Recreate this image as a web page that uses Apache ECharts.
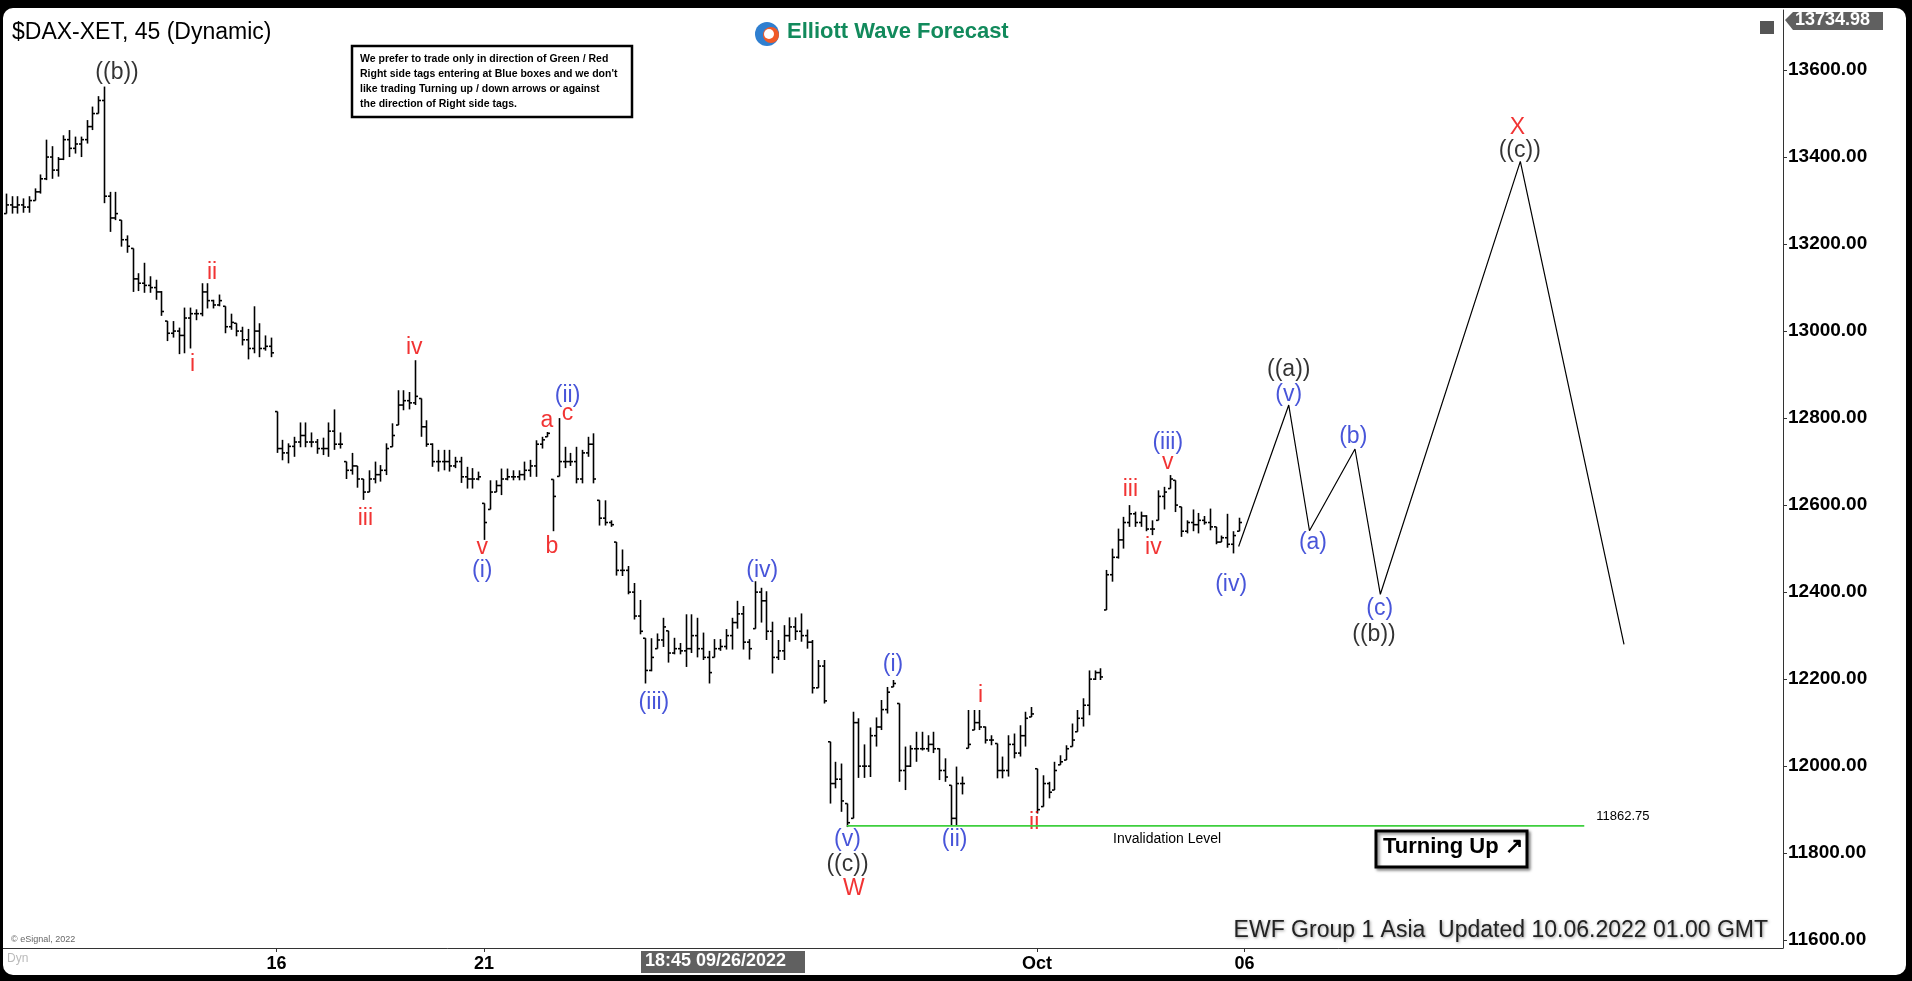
<!DOCTYPE html>
<html><head><meta charset="utf-8">
<script src="https://cdn.jsdelivr.net/npm/echarts@6/dist/echarts.min.js"></script>
<style>html,body{margin:0;padding:0;background:#000;}#c{position:absolute;left:3px;top:8px;width:1903px;height:967px;background:#fff;border-radius:10px;}</style>
</head><body><div id="c"></div>
<script>
const highs=[
13278,13316,13310,13310,13305,13310,13328,13360,13440,13425,13400,13450,
13462,13447,13447,13485,13516,13540,13562,13320,13320,13255,13220,13190,
13133,13157,13126,13118,13092,13023,13023,13008,13054,13054,13050,13110,
13110,13072,13084,13057,13040,13018,13010,13005,13057,13018,12990,12985,
12815,12750,12742,12757,12790,12790,12767,12752,12755,12790,12820,12767,
12700,12720,12690,12660,12680,12700,12692,12742,12788,12864,12864,12860,
12933,12845,12795,12742,12727,12727,12727,12711,12711,12688,12685,12677,
12604,12657,12657,12684,12684,12680,12680,12700,12704,12749,12757,12768,
12659,12800,12734,12720,12734,12727,12757,12765,12611,12611,12565,12515,
12498,12460,12421,12382,12294,12294,12305,12341,12311,12295,12283,12349,
12349,12341,12307,12265,12292,12292,12315,12341,12380,12368,12292,12425,
12410,12402,12332,12290,12324,12342,12342,12351,12314,12290,12244,12244,
12056,12010,12006,11914,12125,12110,12050,12089,12112,12152,12182,12198,
12144,12045,12048,12079,12079,12071,12079,12041,12018,11956,11999,11976,
12129,12129,12129,12091,12071,12052,12022,12071,12075,12094,12125,12136,
11994,11979,11964,12010,12025,12048,12098,12129,12156,12220,12220,12225,
12451,12500,12546,12573,12600,12585,12585,12577,12565,12634,12642,12669,
12657,12596,12565,12590,12582,12575,12592,12550,12530,12580,12540,12571];
const lows=[
13244,13270,13270,13270,13272,13272,13300,13316,13347,13350,13355,13393,
13400,13408,13400,13431,13462,13500,13294,13228,13255,13194,13180,13090,
13092,13088,13088,13072,13035,12977,12985,12947,12949,12960,13025,13034,
13052,13052,13057,12995,13003,12988,12967,12935,12949,12940,12955,12940,
12720,12703,12696,12711,12733,12733,12733,12718,12715,12711,12727,12730,
12660,12670,12640,12612,12630,12650,12654,12669,12734,12784,12818,12820,
12830,12757,12734,12688,12677,12680,12677,12685,12651,12638,12638,12657,
12520,12590,12630,12623,12657,12657,12657,12657,12665,12665,12730,12757,
12540,12666,12685,12690,12650,12650,12711,12650,12553,12553,12550,12438,
12437,12395,12337,12303,12190,12218,12270,12274,12238,12257,12257,12228,
12260,12250,12244,12190,12250,12265,12268,12268,12316,12268,12245,12316,
12330,12290,12213,12244,12244,12286,12290,12286,12270,12167,12180,12144,
11914,11949,11895,11860,11880,11973,11973,11975,12045,12083,12121,12182,
11964,11945,11998,12010,12036,12033,12030,11968,11964,11863,11863,11935,
12041,12083,12083,12052,12048,11972,11972,11976,12018,12022,12045,12113,
11891,11907,11926,11945,12003,12014,12045,12079,12091,12117,12198,12198,
12359,12424,12477,12500,12550,12550,12550,12540,12531,12565,12590,12638,
12584,12527,12535,12540,12535,12555,12542,12510,12515,12502,12489,12540];
const closes=[
13270,13290,13285,13290,13285,13300,13320,13350,13400,13370,13395,13440,
13420,13430,13440,13470,13500,13530,13310,13260,13270,13210,13195,13120,
13110,13105,13100,13090,13045,12995,13000,12990,13030,13040,13040,13090,
13070,13060,13070,13010,13020,13000,12980,12960,13000,12960,12965,12950,
12730,12720,12735,12745,12760,12745,12745,12730,12730,12770,12740,12740,
12680,12690,12660,12630,12660,12670,12680,12730,12760,12830,12840,12835,
12850,12780,12740,12700,12700,12700,12690,12700,12665,12660,12660,12665,
12560,12630,12645,12660,12665,12665,12670,12680,12690,12740,12750,12765,
12620,12700,12700,12700,12660,12720,12740,12660,12570,12560,12555,12450,
12450,12400,12345,12310,12220,12250,12290,12320,12260,12270,12265,12270,
12300,12270,12250,12215,12270,12275,12300,12330,12350,12285,12270,12400,
12380,12310,12250,12265,12300,12320,12310,12300,12285,12180,12230,12150,
11960,11970,11920,11870,12100,12000,12000,12070,12090,12130,12170,12190,
11990,12000,12040,12040,12040,12050,12040,11990,11975,11880,11960,11960,
12050,12100,12090,12060,12060,11990,11990,12050,12030,12070,12110,12120,
11900,11960,11940,11990,12010,12040,12060,12110,12140,12200,12215,12205,
12440,12480,12520,12560,12580,12560,12575,12545,12545,12620,12630,12660,
12600,12540,12560,12555,12565,12560,12550,12515,12525,12510,12530,12560];
const dayStarts=[48,84,180,216];
const dayLabels=['16','21','Oct','06'];
const priceTicks=[11600,11800,12000,12200,12400,12600,12800,13000,13200,13400,13600];
const forecastIdx=[215,223.7,227.3,235.2,239.6,263.9,281.9];
const forecastPrice=[12505,12830,12541,12729,12395,13390,12280];
const invalidation=11862.75;
const invalidFrom=147, invalidTo=275;
const waveLabels=[
[20.3,13594,'((b))','#000'],[33.4,12922,'i','#e00'],[36.8,13135,'ii','#e00'],
[71.9,12961,'iv','#e00'],[63.4,12569,'iii','#e00'],[83.7,12502,'v','#e00'],
[83.7,12450,'(i)','#1a2ad0'],[94.9,12793,'a','#e00'],[98.5,12810,'c','#e00'],
[98.5,12852,'(ii)','#1a2ad0'],[95.8,12505,'b','#e00'],[113.5,12146,'(iii)','#1a2ad0'],
[132.3,12449,'(iv)','#1a2ad0'],[155,12233,'(i)','#1a2ad0'],[170.2,12163,'i','#e00'],
[179.5,11869,'ii','#e00'],[147.1,11832,'(v)','#1a2ad0'],[165.7,11832,'(ii)','#1a2ad0'],
[147.1,11774,'((c))','#000'],[148.2,11718,'W','#e00'],[196.2,12636,'iii','#e00'],
[200.2,12502,'iv','#e00'],[202.7,12698,'v','#e00'],[202.7,12743,'(iii)','#1a2ad0'],
[213.7,12418,'(iv)','#1a2ad0'],[223.7,12911,'((a))','#000'],[223.7,12855,'(v)','#1a2ad0'],
[227.9,12513,'(a)','#1a2ad0'],[234.9,12757,'(b)','#1a2ad0'],[239.5,12362,'(c)','#1a2ad0'],
[238.5,12303,'((b))','#000'],[263.4,13468,'X','#e00'],[263.8,13415,'((c))','#000']];

const ohlc=highs.map((h,i)=>{let o=i>0?closes[i-1]:closes[0];o=Math.min(h,Math.max(lows[i],o));return [i,o,h,lows[i],closes[i]];});
const F='"Liberation Sans", Arial, sans-serif';
const chart=echarts.init(document.getElementById('c'));
chart.setOption({
animation:false,
grid:{left:0,right:123,top:2,bottom:27},
xAxis:{type:'value',min:0.5,max:309.5,
 axisLine:{show:true,lineStyle:{color:'#333'}},splitLine:{show:false},
 axisTick:{show:true,customValues:dayStarts,length:4,lineStyle:{color:'#333'}},
 axisLabel:{customValues:dayStarts,formatter:v=>dayLabels[dayStarts.indexOf(Math.round(v))]||'',color:'#000',fontWeight:'bold',fontSize:18,fontFamily:F,margin:7}},
yAxis:{type:'value',position:'right',min:11582,max:13738,scale:true,
 axisLine:{show:true,lineStyle:{color:'#333'}},splitLine:{show:false},
 axisTick:{show:true,customValues:priceTicks,length:4,inside:false,lineStyle:{color:'#333'}},
 axisLabel:{customValues:priceTicks,formatter:v=>v.toFixed(2),color:'#000',fontWeight:'bold',fontSize:19,fontFamily:F,margin:5}},
series:[
{type:'custom',data:ohlc,encode:{x:0,y:[1,2,3,4]},renderItem:(p,api)=>{
 const x=api.value(0);const po=api.coord([x,api.value(1)]),ph=api.coord([x,api.value(2)]),pl=api.coord([x,api.value(3)]),pc=api.coord([x,api.value(4)]);
 const X=Math.round(ph[0])+0.5;const st={stroke:'#000',lineWidth:1.6};
 return {type:'group',children:[
  {type:'line',shape:{x1:X,y1:ph[1],x2:X,y2:pl[1]},style:st},
  {type:'line',shape:{x1:X-2.5,y1:po[1],x2:X,y2:po[1]},style:st},
  {type:'line',shape:{x1:X,y1:pc[1],x2:X+2.5,y2:pc[1]},style:st}]};}},
{type:'line',data:forecastIdx.map((x,i)=>[x,forecastPrice[i]]),symbol:'none',lineStyle:{color:'#000',width:1.2}},
{type:'line',data:[[invalidFrom,invalidation],[invalidTo,invalidation]],symbol:'none',lineStyle:{color:'#3ecf3e',width:1.6},
 endLabel:{show:true,formatter:'11862.75',fontSize:13,fontFamily:F,color:'#000',offset:[4,-9]}},
{type:'scatter',symbolSize:0,data:waveLabels.map(l=>({value:[l[0],l[1]],label:{formatter:l[2],color:l[3]}})),
 label:{show:true,position:'inside',fontSize:23,fontFamily:F}}
],
graphic:[
 {type:'text',left:9,top:13,style:{text:'$DAX-XET, 45 (Dynamic)',font:'23px '+F,fill:'#000'}},
 {type:'circle',shape:{cx:764,cy:26,r:12},style:{fill:'#2f7fd0'}},
 {type:'circle',shape:{cx:768,cy:27,r:8},style:{fill:'#f05a28'}},
 {type:'circle',shape:{cx:766,cy:26,r:5},style:{fill:'#fff'}},
 {type:'text',left:784,top:13,style:{text:'Elliott Wave Forecast',font:'bold 22px '+F,fill:'#128a5c'}},
 {type:'rect',shape:{x:349,y:38,width:280,height:71},style:{fill:'#fff',stroke:'#000',lineWidth:2.5}},
 {type:'text',left:357,top:44,style:{text:'We prefer to trade only in direction of Green / Red\nRight side tags entering at Blue boxes and we don\'t\nlike trading Turning up / down arrows or against\nthe direction of Right side tags.',font:'bold 10.5px '+F,fill:'#000',lineHeight:15}},
 {type:'text',left:1110,top:824,style:{text:'Invalidation Level',font:'14px '+F,fill:'#000'}},
 {type:'rect',shape:{x:1373,y:823,width:151,height:36},style:{fill:'#fff',stroke:'#000',lineWidth:3,shadowBlur:3,shadowColor:'#888',shadowOffsetX:2,shadowOffsetY:2}},
 {type:'text',left:1380,top:828,style:{text:'Turning Up \u2197',font:'bold 22px '+F,fill:'#000'}},
 {type:'text',right:138,top:911,style:{text:'EWF Group 1 Asia  Updated 10.06.2022 01.00 GMT',font:'23px '+F,fill:'#222',textShadowColor:'#999',textShadowBlur:3,textShadowOffsetX:1,textShadowOffsetY:1}},
 {type:'text',left:8,top:927,style:{text:'\u00a9 eSignal, 2022',font:'9px '+F,fill:'#666'}},
 {type:'text',left:4,top:945,style:{text:'Dyn',font:'12px '+F,fill:'#bbb'}},
 {type:'rect',shape:{x:638,y:943,width:164,height:22},style:{fill:'#606060'}},
 {type:'text',left:642,top:944,style:{text:'18:45 09/26/2022',font:'bold 18px '+F,fill:'#fff'}},
 {type:'polygon',shape:{points:[[1782,12],[1790,4],[1880,4],[1880,22],[1790,22]]},style:{fill:'#606060'}},
 {type:'text',left:1792,top:3,style:{text:'13734.98',font:'bold 18px '+F,fill:'#fff'}},
 {type:'rect',shape:{x:1757,y:13,width:14,height:13},style:{fill:'#555'}}
]});
</script></body></html>
